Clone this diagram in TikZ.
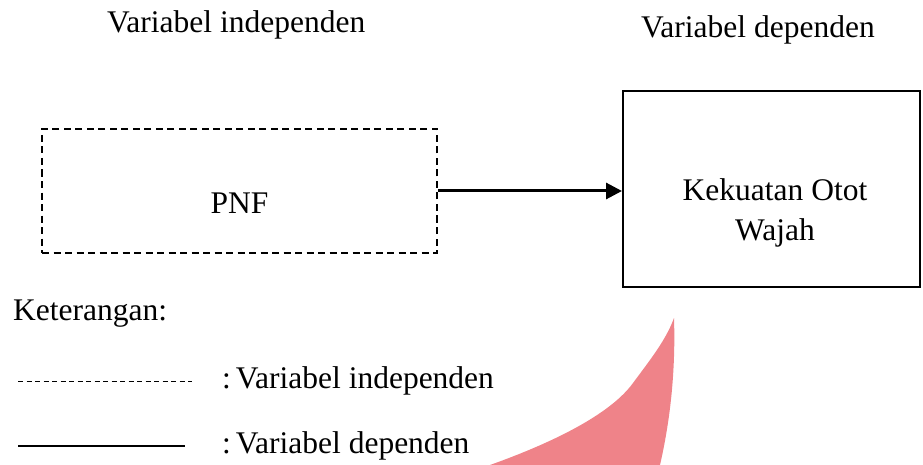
\documentclass[tikz,border=0pt]{standalone}
\usepackage{fontspec}
\setmainfont{Liberation Serif}
\usetikzlibrary{positioning, arrows.meta}
\definecolor{curlred}{RGB}{239,131,137}
\tikzset{
  indepbox/.style = {draw, line width=2pt, dash pattern=on 7pt off 4.5pt,
                     minimum width=395pt, minimum height=124pt, inner sep=0pt},
  depbox/.style   = {draw, line width=2pt,
                     minimum width=297pt, minimum height=196pt, inner sep=0pt},
  lbl/.style      = {inner sep=0pt, font=\fontsize{31.5}{40}\selectfont},
  relarr/.style   = {-{Triangle[length=16pt,width=16pt]}, line width=3pt},
}
\begin{document}
\begin{tikzpicture}[x=1pt, y=-1pt]
    \useasboundingbox (0,0) rectangle (923,465);
    % pink curl
    \fill[curlred] (674,318) .. controls (676,380) and (668,430) .. (660,465)
      -- (490,465) .. controls (560,440) and (612,412) .. (633,383)
      .. controls (650,360) and (666,340) .. (674,318) -- cycle;
    % headings
    \node[lbl, anchor=base west] (indeptitle) at (107,33) {Variabel independen};
    \node[lbl, anchor=base west] (deptitle) at (641,38) {Variabel dependen};
    % boxes
    \node[indepbox] (pnf) at (239.5,191) {};
    \node[lbl, anchor=base] (pnftext) at (239.5,214) {PNF};
    \node[depbox] (kekuatan) at (771.5,189) {};
    \node[lbl, align=center] (kektext) at (775,213) {Kekuatan Otot\\Wajah};
    \draw[relarr] (pnf.east) -- (pnf.east -| kekuatan.west);
    % legend
    \node[lbl, anchor=base west] (keterangan) at (13,320) {Keterangan:};
    \coordinate (dashA) at (18,381);
    \coordinate (dashB) at (192,381);
    \coordinate (solA) at (18,446);
    \coordinate (solB) at (185,446);
    \draw[line width=1pt, dash pattern=on 5pt off 3.5pt] (dashA) -- (dashB);
    \draw[line width=1.5pt] (solA) -- (solB);
    \node[lbl, anchor=base west] (indepnote) at (222,388) {:\hspace{5pt}Variabel independen};
    \node[lbl, anchor=base west] (depnote) at (222,453) {:\hspace{5pt}Variabel dependen};
  \end{tikzpicture}
\end{document}
